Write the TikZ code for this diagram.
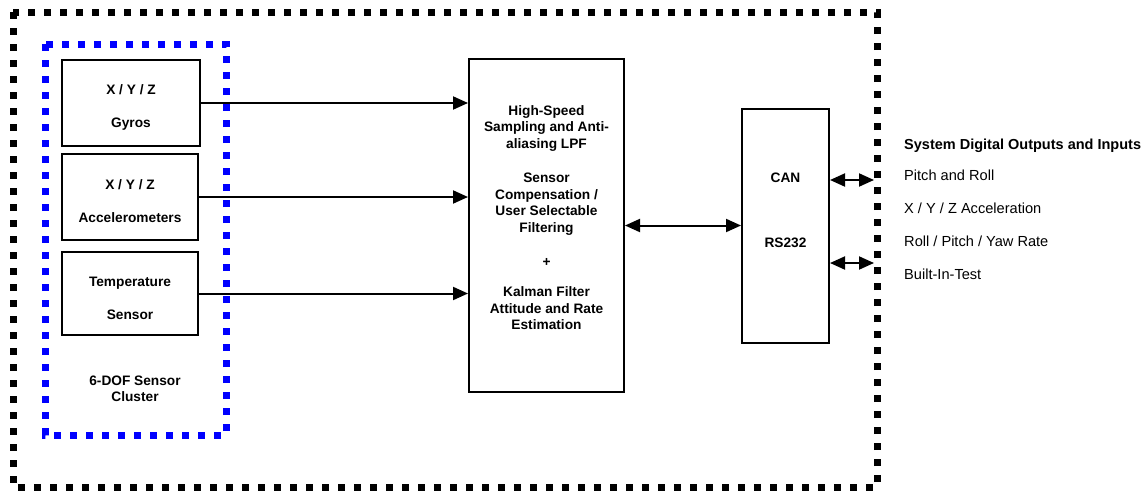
\documentclass[tikz,border=0pt]{standalone}
\usepackage{fontspec}
\setmainfont{Liberation Sans}
\usetikzlibrary{arrows.meta,positioning}

\tikzset{
  block/.style={draw,line width=2pt,inner sep=0pt},
  boxtext/.style={font=\bfseries\fontsize{13.7}{16.5}\selectfont,align=center,inner sep=0pt},
  outtext/.style={font=\fontsize{14.6}{17}\selectfont,anchor=base west,inner sep=0pt},
  sig/.style={line width=2pt,-{Triangle[length=15pt,width=13pt]}},
  bisig/.style={line width=2pt,{Triangle[length=15pt,width=13pt]}-{Triangle[length=15pt,width=13pt]}},
  frame/.style={line width=7pt,dash pattern=on 7pt off 9pt},
}

\begin{document}
\begin{tikzpicture}[x=1pt,y=-1pt]
\useasboundingbox (0,0) rectangle (1146,490);

% enclosure and sensor cluster
\draw[frame] (13,12) rectangle (877,487);
\draw[frame,blue] (45,44) rectangle (226,435);
\node[boxtext] (clustertxt) at (135,389) {6-DOF Sensor\\Cluster};

% sensors
\node[block,minimum width=138pt,minimum height=86pt] (gyro) at (131,103) {};
\node[boxtext] (gyrotxt) at ([yshift=-4pt]gyro.center) {X / Y / Z\\[16.5pt]Gyros};
\node[block,minimum width=136pt,minimum height=86pt] (accel) at (130,197) {};
\node[boxtext] (acceltxt) at ([yshift=-4pt]accel.center) {X / Y / Z\\[16.5pt]Accelerometers};
\node[block,minimum width=136pt,minimum height=83pt] (temp) at (130,293.5) {};
\node[boxtext] (temptxt) at ([yshift=-5pt]temp.center) {Temperature\\[16.5pt]Sensor};

% processing
\node[block,minimum width=155pt,minimum height=333pt] (proc) at (546.5,225.5) {};
\node[boxtext] (proctxt) at ([yshift=8pt]proc.center) {High-Speed\\Sampling and Anti-\\aliasing LPF\\[18pt]Sensor\\Compensation /\\User Selectable\\Filtering\\[18pt]+\\[13.5pt]Kalman Filter\\Attitude and Rate\\Estimation};

% interfaces
\node[block,minimum width=87pt,minimum height=234pt] (comm) at (785.5,226) {};
\node[boxtext] (cantxt) at (785.5,178) {CAN};
\node[boxtext] (rstxt) at (785.5,243) {RS232};

\coordinate (canport) at (874,180);
\coordinate (rsport) at (874,263);

\draw[sig] (gyro.east) -- (gyro.east -| proc.west);
\draw[sig] (accel.east) -- (accel.east -| proc.west);
\draw[sig] (temp.east) -- (temp.east -| proc.west);
\draw[bisig] (proc.east) -- (proc.east -| comm.west);
\draw[bisig] (comm.east |- canport) -- (canport);
\draw[bisig] (comm.east |- rsport) -- (rsport);

% outputs
\node[outtext,font=\bfseries\fontsize{14.5}{17}\selectfont] (hdr) at (904,149) {System Digital Outputs and Inputs};
\node[outtext] (out1) at (904,180) {Pitch and Roll};
\node[outtext] (out2) at (904,213) {X / Y / Z Acceleration};
\node[outtext] (out3) at (904,246) {Roll / Pitch / Yaw Rate};
\node[outtext] (out4) at (904,279) {Built-In-Test};
\end{tikzpicture}
\end{document}
